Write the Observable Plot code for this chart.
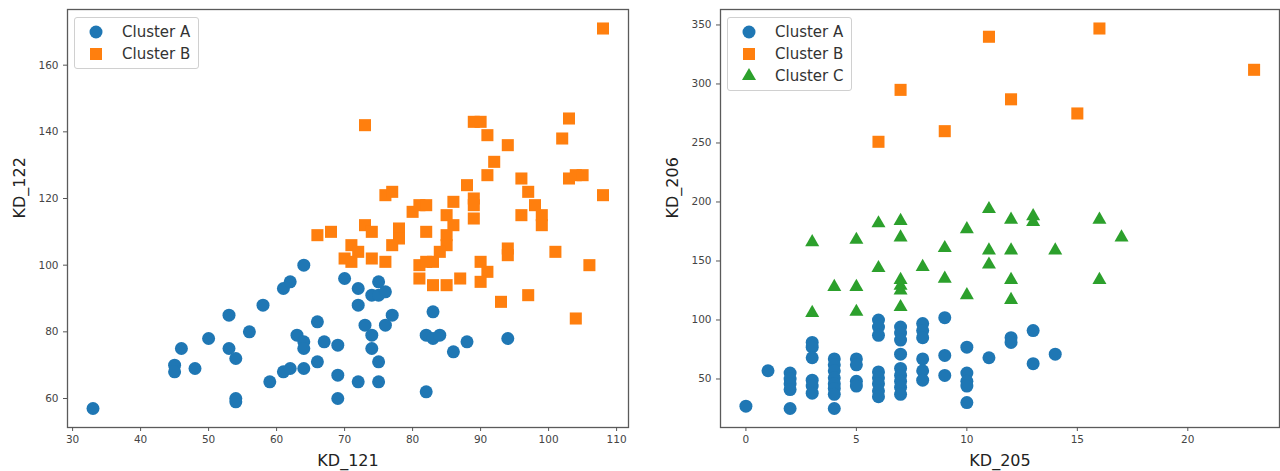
<!DOCTYPE html>
<html><head><meta charset="utf-8">
<script src="https://cdn.jsdelivr.net/npm/d3@7"></script>
<script src="https://cdn.jsdelivr.net/npm/@observablehq/plot@0.6"></script>
<style>
body{margin:0;background:#fff;font-family:"DejaVu Sans",sans-serif;}
#wrap{display:flex;width:1280px;height:471px;overflow:hidden}
.panel{position:relative;width:640px;height:471px}
.legend{position:absolute;top:17px;border:1px solid #d0d0d0;border-radius:3px;background:rgba(255,255,255,0.85);padding:3px 8px 3px 0;font-size:15px;color:#333}
.legend .row{display:flex;align-items:center;height:22px}
.legend svg{display:block}
</style></head>
<body><div id="wrap"></div>
<script>
// ---- data ----
const clusters = ["Cluster A", "Cluster B", "Cluster C"];
const colors = ["#1f77b4", "#ff7f0e", "#2ca02c"];
const symbols = ["circle", "square", "triangle"];
const symbolR = [6.5, 6.8, 5.2];

// Left panel: KD_121 (x) vs KD_122 (y)
const leftXLabel = "KD_121", leftYLabel = "KD_122";
const leftXTicks = [30, 40, 50, 60, 70, 80, 90, 100, 110];
const leftYTicks = [60, 80, 100, 120, 140, 160];
const leftA = [[33,57],[45,70],[45,68],[46,75],[48,69],[50,78],[53,85],[53,75],[54,72],[54,60],[54,59],[56,80],[58,88],[59,65],[61,93],[62,95],[61,68],[62,69],[64,100],[63,79],[64,77],[64,75],[64,69],[66,83],[66,71],[67,77],[69,76],[69,67],[69,60],[70,96],[72,93],[72,88],[72,65],[73,82],[74,79],[74,75],[75,95],[74,91],[75,91],[76,92],[75,71],[75,65],[76,82],[77,85],[83,86],[82,79],[83,78],[84,79],[86,74],[88,77],[82,62],[94,78]];
const leftB = [[108,171],[73,142],[89,143],[90,143],[91,139],[94,136],[92,131],[91,127],[88,124],[89,120],[89,118],[89,114],[86,119],[85,115],[86,112],[85,109],[85,106],[84,104],[80,116],[81,118],[82,118],[76,121],[77,122],[73,112],[74,110],[78,111],[78,108],[77,106],[66,109],[68,110],[71,106],[72,104],[70,102],[71,101],[74,102],[76,101],[82,110],[81,100],[81,96],[82,101],[83,101],[83,94],[85,94],[87,96],[90,101],[91,98],[90,95],[94,105],[94,103],[93,89],[97,91],[101,104],[106,100],[104,84],[96,126],[97,122],[98,118],[99,115],[99,112],[96,115],[103,144],[102,138],[103,126],[104,127],[105,127],[108,121]];

// Right panel: KD_205 (x) vs KD_206 (y)
const rightXLabel = "KD_205", rightYLabel = "KD_206";
const rightXTicks = [0, 5, 10, 15, 20];
const rightYTicks = [50, 100, 150, 200, 250, 300, 350];
const rightA = [[0,27],[1,57],[2,55],[2,50],[2,46],[2,41],[2,25],[3,81],[3,77],[3,68],[3,49],[3,44],[3,38],[4,67],[4,62],[4,57],[4,51],[4,46],[4,42],[4,37],[4,25],[5,67],[5,62],[5,48],[5,44],[6,100],[6,94],[6,87],[6,56],[6,51],[6,46],[6,40],[6,35],[7,94],[7,89],[7,83],[7,71],[7,59],[7,53],[7,48],[7,43],[7,37],[8,97],[8,91],[8,85],[8,67],[8,57],[8,49],[9,102],[9,70],[9,53],[10,77],[10,55],[10,48],[10,44],[10,30],[11,68],[12,85],[12,81],[13,91],[13,63],[14,71]];
const rightB = [[6,251],[7,295],[9,260],[11,340],[16,347],[12,287],[15,275],[23,312]];
const rightC = [[3,166],[3,106],[4,128],[5,168],[5,128],[5,107],[6,182],[6,144],[7,184],[7,170],[7,134],[7,129],[7,125],[7,111],[8,145],[9,161],[9,135],[10,177],[10,121],[11,194],[11,159],[11,147],[12,185],[12,159],[12,134],[12,117],[13,188],[13,183],[14,159],[16,185],[16,134],[17,170]];

// ---- drawing ----
function padded(vals) {
  const [a, b] = d3.extent(vals); const m = (b - a) * 0.05; return [a - m, b + m];
}
const d3Symbols = {circle: d3.symbolCircle, square: d3.symbolSquare, triangle: d3.symbolTriangle};

function makePanel({series, xLabel, yLabel, xTicks, yTicks, marginLeft, marginRight}) {
  const all = series.flat();
  const xDom = padded(all.map(d => d[0]));
  const yDom = padded(all.map(d => d[1]));
  const marks = [];
  series.forEach((pts, i) => {
    marks.push(Plot.dot(pts, {x: d => d[0], y: d => d[1], symbol: () => symbols[i], r: symbolR[i], fill: colors[i], stroke: "none"}));
  });
  marks.push(
    Plot.frame({stroke: "#5a5a5a", strokeWidth: 1.3}),
    Plot.axisX({ticks: xTicks, tickSize: 4, tickPadding: 4, stroke: "#555", fill: "#444", fontSize: 10.5, label: null}),
    Plot.axisY({ticks: yTicks, tickSize: 4, tickPadding: 5, stroke: "#555", fill: "#444", fontSize: 10.5, label: null}),
    Plot.text([xLabel], {text: d => d, frameAnchor: "bottom", dy: 33, lineAnchor: "middle", fontSize: 16, fill: "#222"}),
    Plot.text([yLabel], {text: d => d, frameAnchor: "left", rotate: -90, dx: -48, lineAnchor: "middle", fontSize: 16, fill: "#222"})
  );
  const svg = Plot.plot({
    width: 640, height: 471,
    marginLeft, marginRight, marginTop: 9, marginBottom: 44,
    style: {fontFamily: "DejaVu Sans", background: "white", overflow: "visible"},
    x: {domain: xDom},
    y: {domain: yDom},
    symbol: {type: "identity"},
    marks
  });
  const panel = document.createElement("div");
  panel.className = "panel";
  panel.appendChild(svg);
  // legend inside the axes, upper left
  const leg = document.createElement("div");
  leg.className = "legend";
  leg.style.left = (marginLeft + 7) + "px";
  series.forEach((_, i) => {
    const row = document.createElement("div");
    row.className = "row";
    const s = d3.create("svg").attr("width", 47).attr("height", 22);
    s.append("path")
      .attr("transform", "translate(21,11)")
      .attr("d", d3.symbol(d3Symbols[symbols[i]], Math.PI * symbolR[i] * symbolR[i])())
      .attr("fill", colors[i]);
    row.appendChild(s.node());
    const t = document.createElement("span");
    t.textContent = clusters[i];
    row.appendChild(t);
    leg.appendChild(row);
  });
  panel.appendChild(leg);
  return panel;
}

const wrap = document.getElementById("wrap");
wrap.appendChild(makePanel({series: [leftA, leftB], xLabel: leftXLabel, yLabel: leftYLabel, xTicks: leftXTicks, yTicks: leftYTicks, marginLeft: 67, marginRight: 12}));
wrap.appendChild(makePanel({series: [rightA, rightB, rightC], xLabel: rightXLabel, yLabel: rightYLabel, xTicks: rightXTicks, yTicks: rightYTicks, marginLeft: 80, marginRight: 1}));
</script>
</body></html>
